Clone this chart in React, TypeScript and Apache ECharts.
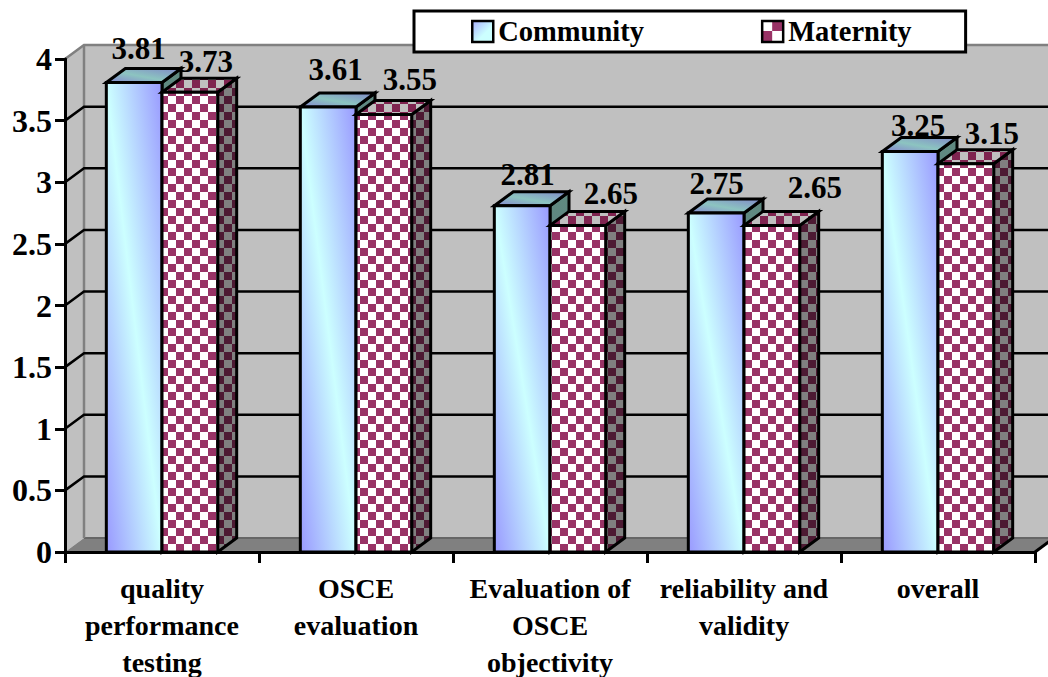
import React, { useEffect, useRef } from "react";
import * as echarts from "echarts";

const categories = [
  "quality\nperformance\ntesting",
  "OSCE\nevaluation",
  "Evaluation of\nOSCE\nobjectivity",
  "reliability and\nvalidity",
  "overall",
];
const community = [3.81, 3.61, 2.81, 2.75, 3.25];
const maternity = [3.73, 3.55, 2.65, 2.65, 3.15];
const yTicks = [0, 0.5, 1, 1.5, 2, 2.5, 3, 3.5, 4];
const communityLabelOffsets = [[4.5, -33.5], [7.5, -37.5], [5.5, -31], [0.5, -30], [8, -25.5]];
const maternityLabelOffsets = [[16, -31], [26, -34.5], [33, -32], [43, -38], [26, -30]];

const FONT = '"Liberation Serif", "Times New Roman", serif';
const LABEL_FONT = `bold 31px ${FONT}`;
const DX = 19;
const DY = 14;
const BAR_RATIO = 0.287;

function checker(a: string, b: string, cell: number) {
  const c = document.createElement("canvas");
  c.width = cell * 2;
  c.height = cell * 2;
  const g = c.getContext("2d")!;
  g.fillStyle = a;
  g.fillRect(0, 0, cell * 2, cell * 2);
  g.fillStyle = b;
  g.fillRect(0, 0, cell, cell);
  g.fillRect(cell, cell, cell, cell);
  return c;
}

function pattern(c: HTMLCanvasElement, x: number, y: number, scaleY = 1) {
  return {
    image: c,
    repeat: "repeat",
    imageWidth: c.width,
    imageHeight: c.height,
    x,
    y,
    scaleY,
  } as any;
}

const linear = (x: number, y: number, x2: number, y2: number, stops: [number, string][]) =>
  new echarts.graphic.LinearGradient(
    x,
    y,
    x2,
    y2,
    stops.map(([offset, color]) => ({ offset, color }))
  );

export default function App() {
  const ref = useRef<HTMLDivElement>(null);
  useEffect(() => {
    document.body.style.margin = "0";
    const chart = echarts.init(ref.current!, undefined, { renderer: "svg" });

    const frontCheck = checker("#ffffff", "#993366", 8);
    const sideCheck = checker("#808080", "#4d1a33", 8);
    const topCheck = checker("#c0c0c0", "#7f2450", 8);
    const legendCheck = checker("#993366", "#ffffff", 10);

    const renderWall = (params: any, api: any) => {
      const v = api.value(0);
      const [x0, y] = api.coord([0, v]);
      const left = x0 - api.size([1, 0])[0] / 2;
      const children: any[] = [];
      if (v === 0) {
        const top = api.coord([0, 4])[1];
        children.push(
          {
            type: "rect",
            shape: { x: left + DX, y: top - DY, width: 1000, height: y - top },
            style: { fill: "#c0c0c0", stroke: "none" },
          },
          {
            type: "polygon",
            shape: { points: [[left, y], [left + DX, y - DY], [left + DX, top - DY], [left, top]] },
            style: { fill: "#c0c0c0", stroke: "none" },
          },
          {
            type: "polygon",
            shape: { points: [[left, y], [left + DX, y - DY], [1100, y - DY], [1100, y]] },
            style: { fill: "#808080", stroke: "none" },
          },
          {
            type: "polygon",
            shape: { points: [[1035, y], [1035 + DX, y - DY], [1100, y - DY], [1100, y]] },
            style: { fill: "#ffffff", stroke: "none" },
          },
          {
            type: "line",
            shape: { x1: left + DX, y1: y - DY, x2: 1100, y2: y - DY },
            style: { stroke: "#666666", lineWidth: 2 },
          },
          {
            type: "line",
            shape: { x1: left + DX, y1: top - DY, x2: left + DX, y2: y - DY },
            style: { stroke: "#808080", lineWidth: 2.5 },
          },
          {
            type: "line",
            shape: { x1: 1035, y1: y, x2: 1035 + DX, y2: y - DY },
            style: { stroke: "#000000", lineWidth: 3 },
          }
        );
        return { type: "group", children };
      }
      const isTop = v === 4;
      const stroke = isTop ? "#808080" : "#000000";
      children.push({
        type: "polyline",
        shape: { points: [[left, y], [left + DX, y - DY], [1100, y - DY]] },
        style: { stroke, lineWidth: 2.5, fill: "none" },
      });
      return { type: "group", children };
    };

    const renderBar = (kind: "c" | "m") => (params: any, api: any) => {
      const i = api.value(0);
      const v = api.value(1);
      const [cx, top] = api.coord([i, v]);
      const bottom = api.coord([i, 0])[1];
      const band = api.size([1, 0])[0];
      const w = band * BAR_RATIO;
      const l = kind === "c" ? cx - w : cx;
      const r = l + w;
      const off = (kind === "c" ? communityLabelOffsets : maternityLabelOffsets)[i];
      const edge = { stroke: "#000000", lineWidth: 3, lineJoin: "miter" };

      const frontFill =
        kind === "c"
          ? linear(1, 0, 0, 1, [[0, "#9999ff"], [0.5, "#ccffff"], [1, "#9999ff"]])
          : pattern(frontCheck, l + 1, bottom);
      const topFill =
        kind === "c"
          ? linear(0, 1, 1, 0, [[0, "#8585d0"], [0.45, "#8cc4c0"], [1, "#8088c8"]])
          : pattern(topCheck, l, top - DY, 0.6);
      const sideFill =
        kind === "c"
          ? linear(0, 0, 0, 1, [[0, "#5f8a80"], [1, "#66668f"]])
          : pattern(sideCheck, r, bottom);

      return {
        type: "group",
        children: [
          {
            type: "polygon",
            shape: { points: [[r, top], [r + DX, top - DY], [r + DX, bottom - DY], [r, bottom]] },
            style: { fill: sideFill, ...edge },
          },
          {
            type: "polygon",
            shape: { points: [[l, top], [l + DX, top - DY], [r + DX, top - DY], [r, top]] },
            style: { fill: topFill, ...edge },
          },
          {
            type: "rect",
            shape: { x: l, y: top, width: w, height: bottom - top },
            style: { fill: frontFill, ...edge },
          },
          {
            type: "text",
            x: (l + r) / 2 + off[0],
            y: top + off[1],
            z2: 100,
            style: {
              text: v.toFixed(2),
              font: LABEL_FONT,
              fill: "#000000",
              align: "center",
              verticalAlign: "middle",
            },
          },
        ],
      };
    };

    chart.setOption({
      animation: false,
      backgroundColor: "#ffffff",
      grid: { left: 65, right: 13, top: 59, bottom: 125, outerBoundsMode: "none" },
      legend: {
        show: true,
        left: 414,
        top: 11,
        z: 20,
        orient: "horizontal",
        padding: [6, 54, 6, 57],
        backgroundColor: "#ffffff",
        borderColor: "#000000",
        borderWidth: 3,
        borderRadius: 0,
        itemGap: 117,
        itemWidth: 21,
        itemHeight: 21,
        textStyle: {
          fontFamily: FONT,
          fontWeight: "bold",
          fontSize: 28.5,
          color: "#000000",
          padding: [0, 0, 0, 0],
        },
        data: [
          {
            name: "Community",
            icon: "rect",
            itemStyle: {
              color: linear(0, 0, 1, 1, [[0, "#a8b0ff"], [0.6, "#ccffff"], [1, "#ccffff"]]),
              borderColor: "#000000",
              borderWidth: 2.5,
            },
          },
          {
            name: "Maternity",
            icon: "rect",
            itemStyle: {
              color: pattern(legendCheck, 0, 4),
              borderColor: "#000000",
              borderWidth: 2.5,
            },
          },
        ],
      },
      xAxis: {
        type: "category",
        data: categories,
        z: 10,
        boundaryGap: true,
        axisLine: { show: true, lineStyle: { color: "#000000", width: 3 } },
        axisTick: { show: true, length: 11, alignWithLabel: false, lineStyle: { color: "#000000", width: 3 } },
        axisLabel: {
          interval: 0,
          margin: 18,
          fontFamily: FONT,
          fontWeight: "bold",
          fontSize: 28,
          lineHeight: 37,
          color: "#000000",
        },
        splitLine: { show: false },
      },
      yAxis: {
        type: "value",
        min: 0,
        max: 4,
        interval: 0.5,
        z: 10,
        axisLine: { show: true, lineStyle: { color: "#000000", width: 3 } },
        axisTick: { show: true, length: 10, lineStyle: { color: "#000000", width: 3 } },
        axisLabel: {
          margin: 13,
          fontFamily: FONT,
          fontWeight: "bold",
          fontSize: 32,
          color: "#000000",
        },
        splitLine: { show: false },
      },
      series: [
        {
          type: "custom",
          name: "wall",
          silent: true,
          z: 1,
          data: yTicks.map((v) => [v]),
          encode: { y: 0 },
          renderItem: renderWall,
          clip: false,
        },
        {
          type: "custom",
          name: "Community",
          z: 2,
          data: community.map((v, i) => [i, v]),
          encode: { x: 0, y: 1 },
          renderItem: renderBar("c"),
          itemStyle: { color: "#9999ff" },
        },
        {
          type: "custom",
          name: "Maternity",
          z: 3,
          data: maternity.map((v, i) => [i, v]),
          encode: { x: 0, y: 1 },
          renderItem: renderBar("m"),
          itemStyle: { color: "#993366" },
        },
      ],
    });
    return () => chart.dispose();
  }, []);
  return (
    <div
      ref={ref}
      style={{ position: "absolute", left: 0, top: 0, width: 1048, height: 677 }}
    />
  );
}
